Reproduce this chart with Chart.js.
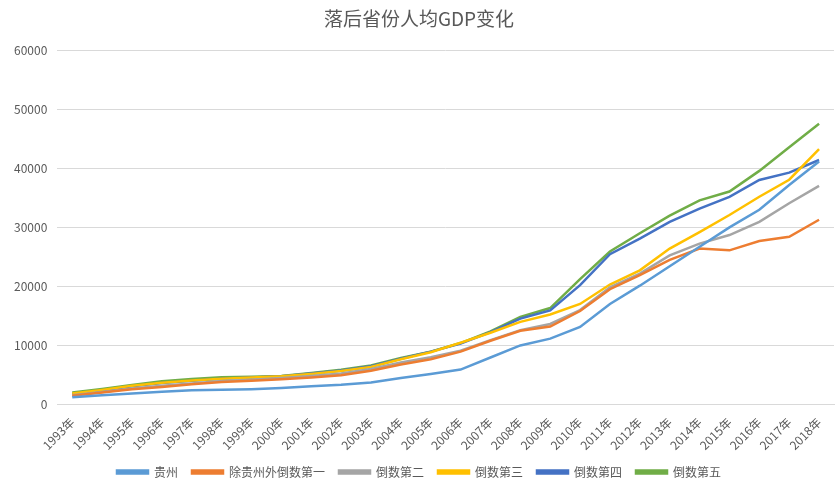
<!DOCTYPE html>
<html>
<head>
<meta charset="utf-8">
<script src="https://cdn.jsdelivr.net/npm/chart.js@4.4.0/dist/chart.umd.min.js"></script>
<style>
  html, body { margin: 0; padding: 0; background: #fff; }
  #wrap { width: 840px; height: 491px; }
</style>
</head>
<body>
<div id="wrap"><canvas id="c"></canvas></div>
<script>
// Years on the category axis
const years = [
  '1993年', '1994年', '1995年', '1996年', '1997年', '1998年', '1999年', '2000年', '2001年',
  '2002年', '2003年', '2004年', '2005年', '2006年', '2007年', '2008年', '2009年', '2010年',
  '2011年', '2012年', '2013年', '2014年', '2015年', '2016年', '2017年', '2018年'
];

// Per-capita GDP
const guizhou = [1150, 1500, 1800, 2100, 2350, 2400, 2500, 2700, 3000, 3250, 3650, 4400, 5100,
  5850, 7900, 9950, 11100, 13100, 17000, 20100, 23400, 26700, 30000, 33000, 37200, 41200];
const last1 = [1400, 1950, 2500, 2900, 3350, 3750, 3950, 4200, 4500, 4900, 5650, 6700, 7600,
  8900, 10750, 12450, 13150, 15800, 19500, 21900, 24500, 26400, 26100, 27700, 28400, 31300];
const last2 = [1500, 2050, 2650, 3100, 3500, 3900, 4100, 4400, 4750, 5200, 5950, 7050, 7950,
  9050, 10850, 12550, 13600, 15950, 19800, 22150, 25250, 27250, 28700, 30950, 34100, 37050];
const last3 = [1800, 2400, 3100, 3600, 4000, 4300, 4500, 4700, 5100, 5600, 6300, 7600, 8800,
  10400, 12100, 13950, 15200, 17000, 20300, 22700, 26400, 29200, 32100, 35200, 38100, 43300];
const last4 = [1700, 2300, 3000, 3550, 3950, 4300, 4500, 4700, 5200, 5700, 6400, 7700, 8900,
  10250, 12200, 14500, 15900, 20200, 25450, 28100, 30950, 33200, 35200, 38050, 39300, 41450];
const last5 = [1950, 2550, 3250, 3850, 4250, 4550, 4650, 4750, 5250, 5800, 6550, 7800, 8900,
  10350, 12350, 14800, 16300, 21200, 25900, 29000, 32000, 34600, 36100, 39600, 43600, 47600];

const seriesNames = ['贵州', '除贵州外倒数第一', '倒数第二', '倒数第三', '倒数第四', '倒数第五'];
const seriesColors = ['#5B9BD5', '#ED7D31', '#A5A5A5', '#FFC000', '#4472C4', '#70AD47'];
const seriesData = [guizhou, last1, last2, last3, last4, last5];

const yTicks = [0, 10000, 20000, 30000, 40000, 50000, 60000];

const FONT = "'Noto Sans CJK SC', 'Noto Sans', sans-serif";
const TEXT = '#595959';

new Chart(document.getElementById('c'), {
  type: 'line',
  data: {
    labels: years,
    datasets: seriesNames.map((name, i) => ({
      label: name,
      data: seriesData[i],
      borderColor: seriesColors[i],
      backgroundColor: seriesColors[i],
      borderWidth: 2.5,
      pointRadius: 0,
      tension: 0,
      fill: false
    }))
  },
  options: {
    responsive: true,
    maintainAspectRatio: false,
    animation: false,
    layout: { padding: { left: 4, right: 6, top: 5, bottom: 3 } },
    plugins: {
      title: {
        display: true,
        text: '落后省份人均GDP变化',
        color: TEXT,
        font: { family: FONT, size: 19, weight: 'normal' },
        padding: { top: 2, bottom: 21 }
      },
      legend: {
        position: 'bottom',
        labels: {
          color: TEXT,
          font: { family: FONT, size: 12 },
          boxWidth: 31,
          boxHeight: 3,
          padding: 14
        }
      },
      tooltip: { enabled: false }
    },
    scales: {
      x: {
        offset: true,
        grid: { display: false },
        border: { display: true, color: '#d9d9d9' },
        afterFit: axis => { axis.height = 48; },
        ticks: {
          color: TEXT,
          font: { family: FONT, size: 12 },
          maxRotation: 45,
          minRotation: 45,
          autoSkip: false
        }
      },
      y: {
        min: yTicks[0],
        max: yTicks[yTicks.length - 1],
        afterBuildTicks: axis => { axis.ticks = yTicks.map(v => ({ value: v })); },
        grid: { color: '#d9d9d9', drawTicks: false },
        border: { display: false },
        ticks: {
          color: TEXT,
          font: { family: FONT, size: 12 },
          padding: 10,
          callback: v => String(v)
        }
      }
    }
  }
});
</script>
</body>
</html>
